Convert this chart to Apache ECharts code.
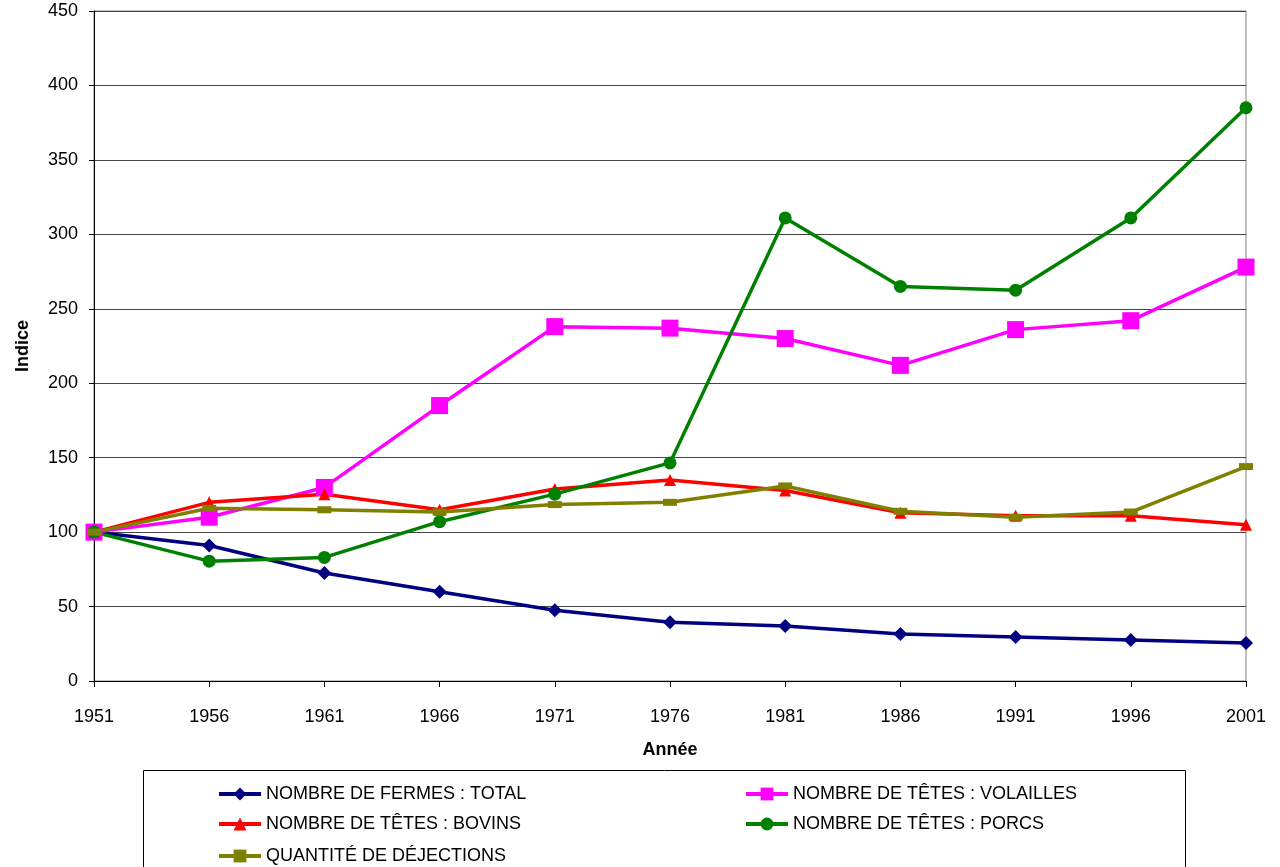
<!DOCTYPE html>
<html>
<head>
<meta charset="utf-8">
<script src="https://cdn.jsdelivr.net/npm/echarts@6/dist/echarts.min.js"></script>
<style>
  html, body { margin: 0; padding: 0; background: #fff; }
  #main { width: 1280px; height: 867px; }
</style>
</head>
<body>
<div id="main"></div>
<script>
var years = ["1951", "1956", "1961", "1966", "1971", "1976", "1981", "1986", "1991", "1996", "2001"];

var fermes     = [100, 91, 72.5, 60, 47.5, 39.5, 37, 31.5, 29.5, 27.5, 25.5];
var volailles  = [100, 110, 130, 185, 238, 237, 230, 212, 236, 242, 278];
var bovins     = [100, 120, 125.5, 115, 129, 135, 128, 113, 111, 111, 105];
var porcs      = [100, 80.5, 83, 107, 125.5, 146.5, 311, 265, 262.5, 311, 385];
var dejections = [100, 116, 115, 113.5, 118.5, 120, 131, 114, 110, 113.5, 144];

var names = [
  "NOMBRE DE FERMES : TOTAL",
  "NOMBRE DE TÊTES : VOLAILLES",
  "NOMBRE DE TÊTES : BOVINS",
  "NOMBRE DE TÊTES : PORCS",
  "QUANTITÉ DE DÉJECTIONS"
];

var font = "'Liberation Sans', Arial, sans-serif";

function line(name, data, color, symbol, size) {
  return {
    name: name,
    type: "line",
    data: data,
    symbol: symbol,
    symbolSize: size,
    showSymbol: true,
    lineStyle: { color: color, width: 3.5 },
    itemStyle: { color: color },
    z: 3
  };
}

function legendAt(name, left, top) {
  return {
    data: [name],
    left: left,
    top: top,
    padding: 0,
    itemWidth: 42,
    itemHeight: 16,
    lineStyle: { width: 4 },
    textStyle: { fontFamily: font, fontSize: 18, color: "#000" },
    selectedMode: false
  };
}

var myChart = echarts.init(document.getElementById("main"));
var option = {
  animation: false,
  backgroundColor: "#fff",
  textStyle: { fontFamily: font },
  grid: {
    left: 94, right: 34, top: 11, bottom: 186,
    show: true, borderColor: "#808080", borderWidth: 1
  },
  legend: [
    legendAt(names[0], 217, 785),
    legendAt(names[1], 744, 785),
    legendAt(names[2], 217, 815),
    legendAt(names[3], 744, 815),
    legendAt(names[4], 217, 847)
  ],
  graphic: [{
    type: "rect",
    shape: { x: 143.5, y: 770.5, width: 1042, height: 120 },
    style: { fill: "none", stroke: "#000", lineWidth: 1 },
    z: -1
  }],
  xAxis: {
    type: "category",
    data: years,
    boundaryGap: false,
    name: "Année",
    nameLocation: "middle",
    nameGap: 60,
    nameTextStyle: { fontFamily: font, fontSize: 18, fontWeight: "bold", color: "#000" },
    axisLine: { lineStyle: { color: "#000", width: 1 } },
    axisTick: { show: true, length: 6, inside: false, alignWithLabel: true, lineStyle: { color: "#000" } },
    axisLabel: { fontFamily: font, fontSize: 18, color: "#000", margin: 27, interval: 0 },
    splitLine: { show: false }
  },
  yAxis: {
    type: "value",
    min: 0,
    max: 450,
    interval: 50,
    name: "Indice",
    nameLocation: "middle",
    nameGap: 62,
    nameRotate: 90,
    nameTextStyle: { fontFamily: font, fontSize: 18, fontWeight: "bold", color: "#000" },
    axisLine: { show: true, lineStyle: { color: "#000", width: 1 } },
    axisTick: { show: true, length: 5, lineStyle: { color: "#000" } },
    axisLabel: { fontFamily: font, fontSize: 18, color: "#000", margin: 16 },
    splitLine: { show: true, lineStyle: { color: "#444", width: 1 } }
  },
  series: [
    line(names[0], fermes, "#000080", "diamond", 14),
    line(names[1], volailles, "#FF00FF", "rect", 17),
    line(names[2], bovins, "#FF0000", "triangle", 12),
    line(names[3], porcs, "#008000", "circle", 13),
    line(names[4], dejections, "#808000", "rect", [14, 7])
  ]
};
myChart.setOption(option);
</script>
</body>
</html>
